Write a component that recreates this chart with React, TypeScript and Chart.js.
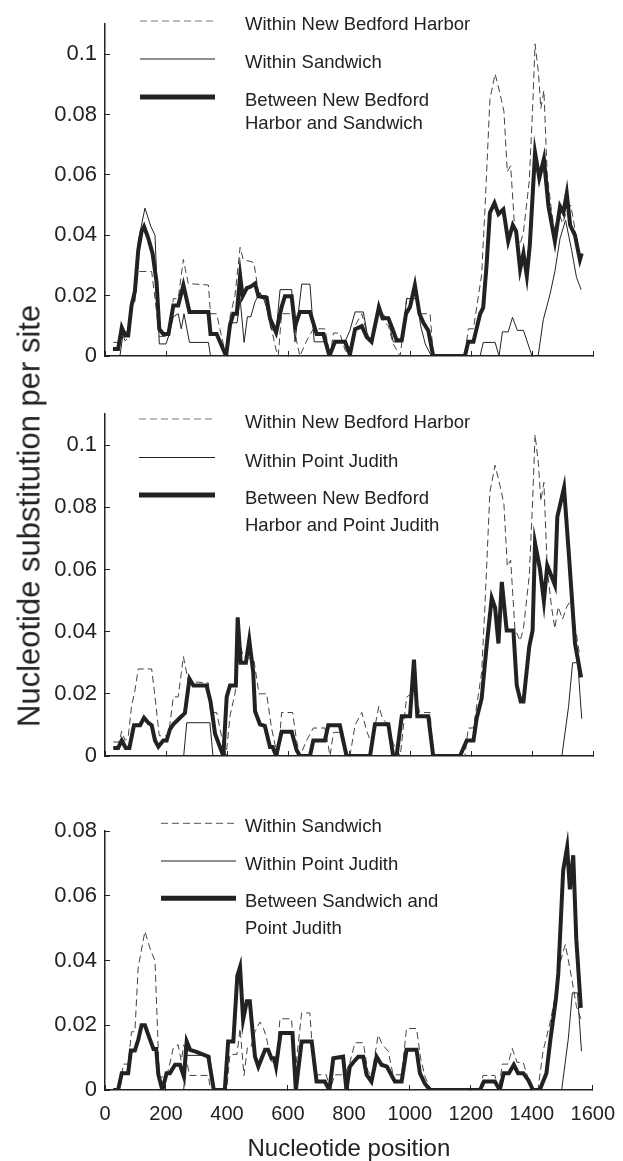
import React, { useEffect, useRef } from 'react';
import { Chart, registerables } from 'chart.js';

Chart.register(...registerables);

const FONT = '"Liberation Sans", Arial, Helvetica, sans-serif';

// ---------- axis ticks ----------
const xTicks = [0, 200, 400, 600, 800, 1000, 1200, 1400, 1600];
const yTicksTop = [0, 0.02, 0.04, 0.06, 0.08, 0.1];
const yTicksBottom = [0, 0.02, 0.04, 0.06, 0.08];

// ---------- series: [nucleotide position, substitutions per site] ----------
const withinNBH: [number, number][] = [
  [27, 0.0045], [46, 0.0045], [55, 0.008], [66, 0.005], [76, 0.006], [87, 0.016], [98, 0.021],
  [109, 0.028], [153, 0.028], [164, 0.019], [178, 0.0065], [208, 0.0065], [224, 0.019], [240, 0.019],
  [257, 0.032], [273, 0.024], [339, 0.0235], [346, 0.014], [366, 0.014], [382, 0.0065], [397, 0],
  [410, 0.013], [426, 0.02], [443, 0.036], [453, 0.032], [488, 0.031], [505, 0.02], [530, 0.02],
  [546, 0.009], [561, 0.002], [568, 0], [579, 0.014], [615, 0.014], [628, 0.005], [639, 0],
  [661, 0.005], [683, 0.009], [721, 0.009], [738, 0], [749, 0.0076], [770, 0.0076], [787, 0.002],
  [803, 0], [820, 0.01], [842, 0.014], [858, 0.008], [874, 0.004], [898, 0.016], [910, 0.012],
  [929, 0.01], [945, 0.004], [968, 0], [989, 0.019], [1005, 0.02], [1016, 0.024], [1031, 0.014],
  [1066, 0.014], [1076, 0], [1180, 0], [1191, 0.009], [1208, 0.009], [1235, 0.027], [1246, 0.049],
  [1262, 0.085], [1279, 0.0935], [1295, 0.087], [1308, 0.081], [1319, 0.061], [1330, 0.063],
  [1344, 0.041], [1361, 0.037], [1372, 0.041], [1391, 0.058], [1402, 0.082], [1410, 0.1034],
  [1421, 0.094], [1429, 0.082], [1439, 0.088], [1450, 0.06], [1464, 0.048], [1475, 0.041],
  [1486, 0.048], [1500, 0.044], [1514, 0.048], [1527, 0.05], [1541, 0.042], [1557, 0.032],
];

const withinSandwich: [number, number][] = [
  [27, 0], [49, 0], [60, 0.008], [76, 0.008], [87, 0.018], [98, 0.018], [109, 0.038], [131, 0.049],
  [150, 0.043], [164, 0.04], [178, 0.004], [200, 0.004], [210, 0.007], [224, 0.013], [240, 0.014],
  [250, 0.009], [259, 0.014], [277, 0.0045], [339, 0.0045], [346, 0], [399, 0], [410, 0.011],
  [433, 0.011], [443, 0.019], [456, 0.0045], [467, 0.013], [478, 0.013], [492, 0.018], [508, 0.021],
  [520, 0.019], [530, 0.016], [544, 0.009], [561, 0.008], [574, 0.022], [612, 0.022], [623, 0.0047],
  [645, 0.0238], [672, 0.0238], [686, 0.0047], [726, 0.0047], [738, 0], [754, 0.0047], [787, 0.0047],
  [803, 0.0085], [820, 0.0146], [847, 0.0146], [862, 0.006], [874, 0.004], [896, 0.017], [910, 0.014],
  [929, 0.012], [945, 0.0047], [973, 0.0047], [989, 0.019], [1022, 0.019], [1035, 0.01], [1050, 0.004],
  [1070, 0], [1230, 0], [1240, 0.0045], [1279, 0.0045], [1292, 0], [1303, 0.008], [1322, 0.008],
  [1336, 0.0128], [1352, 0.0085], [1372, 0.0085], [1400, 0], [1420, 0], [1437, 0.012], [1459, 0.0204],
  [1475, 0.028], [1492, 0.039], [1510, 0.045], [1530, 0.035], [1546, 0.026], [1561, 0.022],
];

const withinPointJudith: [number, number][] = [
  [27, 0], [258, 0], [268, 0.0107], [344, 0.0107], [354, 0], [1498, 0], [1520, 0.016],
  [1533, 0.03], [1550, 0.03], [1563, 0.012],
];

const betweenNBHSandwich: [number, number][] = [
  [26, 0.0023], [43, 0.0023], [55, 0.0094], [66, 0.0068], [76, 0.0068], [87, 0.0167], [98, 0.0214],
  [109, 0.035], [120, 0.0413], [128, 0.0429], [142, 0.039], [156, 0.034], [169, 0.0245], [178, 0.0089],
  [191, 0.0073], [208, 0.0073], [224, 0.0167], [240, 0.0167], [257, 0.0235], [277, 0.0146], [339, 0.0146],
  [346, 0.0073], [366, 0.0073], [397, 0], [410, 0.0104], [421, 0.014], [432, 0.014], [443, 0.0266],
  [451, 0.0198], [465, 0.0225], [478, 0.023], [492, 0.024], [503, 0.0198], [530, 0.0193], [541, 0.0125],
  [561, 0.0078], [579, 0.0162], [590, 0.0198], [612, 0.0198], [623, 0.0099], [639, 0.0146], [672, 0.0146],
  [694, 0.0073], [716, 0.0073], [736, 0], [754, 0.0047], [787, 0.0047], [803, 0.0005], [820, 0.0089],
  [842, 0.0099], [858, 0.0063], [874, 0.0047], [898, 0.0162], [910, 0.0125], [929, 0.0125], [943, 0.0089],
  [956, 0.0052], [973, 0.0052], [987, 0.014], [1000, 0.0162], [1016, 0.0235], [1031, 0.014], [1044, 0.011],
  [1060, 0.0084], [1076, 0], [1180, 0], [1191, 0.0047], [1208, 0.0047], [1230, 0.014], [1240, 0.016],
  [1251, 0.03], [1262, 0.0475], [1277, 0.0507], [1290, 0.047], [1306, 0.0486], [1322, 0.038],
  [1337, 0.0434], [1348, 0.0413], [1361, 0.0287], [1372, 0.034], [1383, 0.0266], [1393, 0.037],
  [1410, 0.0674], [1424, 0.059], [1439, 0.0653], [1454, 0.0496], [1475, 0.038], [1492, 0.0496],
  [1503, 0.0475], [1514, 0.0538], [1525, 0.0434], [1541, 0.04], [1557, 0.0319], [1563, 0.034],
];

const betweenNBHPointJudith: [number, number][] = [
  [27, 0.0026], [43, 0.0026], [55, 0.005], [68, 0.0026], [80, 0.0026], [95, 0.0099], [115, 0.0099],
  [128, 0.0123], [142, 0.0107], [153, 0.0099], [164, 0.005], [175, 0.003], [191, 0.005], [202, 0.005],
  [213, 0.0086], [224, 0.0102], [246, 0.0123], [262, 0.0138], [277, 0.0248], [290, 0.0227], [333, 0.0227],
  [346, 0.0175], [361, 0.0071], [388, 0], [399, 0.019], [410, 0.0227], [429, 0.0227], [435, 0.0446],
  [445, 0.03], [462, 0.03], [473, 0.0373], [486, 0.0269], [492, 0.0144], [508, 0.0102], [524, 0.0097],
  [541, 0.0029], [550, 0.0029], [561, 0], [579, 0.0078], [612, 0.0078], [628, 0.0019], [639, 0],
  [672, 0], [683, 0.005], [721, 0.005], [732, 0.0099], [770, 0.0099], [792, 0], [869, 0], [885, 0.0102],
  [929, 0.0102], [945, 0], [956, 0], [973, 0.0128], [1000, 0.0128], [1013, 0.031], [1024, 0.0128],
  [1060, 0.0128], [1076, 0], [1164, 0], [1186, 0.005], [1208, 0.005], [1219, 0.0123], [1235, 0.0185],
  [1251, 0.0352], [1268, 0.0508], [1279, 0.0477], [1290, 0.0362], [1301, 0.056], [1317, 0.0404],
  [1339, 0.0404], [1350, 0.0227], [1363, 0.0175], [1372, 0.0175], [1391, 0.0352], [1402, 0.0404],
  [1410, 0.0685], [1426, 0.0602], [1439, 0.0498], [1450, 0.0613], [1475, 0.055], [1483, 0.0769],
  [1505, 0.0863], [1522, 0.0633], [1541, 0.0362], [1561, 0.0253],
];

const betweenSandwichPointJudith: [number, number][] = [
  [27, 0], [43, 0], [55, 0.0052], [76, 0.0052], [85, 0.0122], [98, 0.0122], [109, 0.0155], [120, 0.02],
  [131, 0.02], [148, 0.0155], [159, 0.0127], [168, 0.0127], [175, 0.0047], [188, 0], [202, 0.0052],
  [213, 0.0052], [230, 0.0078], [246, 0.0078], [259, 0.0041], [268, 0.015], [279, 0.0124], [300, 0.0118],
  [339, 0.0103], [357, 0], [393, 0], [404, 0.015], [421, 0.015], [434, 0.0352], [443, 0.038],
  [453, 0.0217], [465, 0.0274], [475, 0.0274], [492, 0.0103], [503, 0.0072], [525, 0.0124], [535, 0.0124],
  [546, 0.0098], [555, 0.0098], [561, 0.0072], [576, 0.0176], [615, 0.0176], [626, 0], [645, 0.015],
  [678, 0.015], [694, 0.0026], [721, 0.0026], [736, 0], [749, 0.0098], [781, 0.0103], [792, 0],
  [803, 0.0072], [814, 0.0085], [831, 0.0103], [847, 0.0103], [858, 0.0047], [874, 0.0026], [891, 0.0103],
  [907, 0.0078], [925, 0.0072], [951, 0.0026], [973, 0.0026], [989, 0.0124], [1022, 0.0124], [1033, 0.0052],
  [1049, 0.002], [1066, 0], [1230, 0], [1243, 0.0026], [1279, 0.0026], [1295, 0], [1308, 0.0052],
  [1325, 0.0052], [1341, 0.0078], [1355, 0.0052], [1372, 0.0052], [1389, 0.003], [1404, 0], [1426, 0],
  [1448, 0.0052], [1461, 0.0155], [1479, 0.028], [1487, 0.036], [1503, 0.0678], [1516, 0.075],
  [1525, 0.062], [1536, 0.0725], [1546, 0.0466], [1561, 0.0254],
];

// ---------- styling ----------
type LineStyle = 'dashed' | 'thin' | 'thick';

const STYLES: Record<LineStyle, any> = {
  dashed: { borderColor: '#444', borderWidth: 1, borderDash: [7, 4], legendWidth: 1.2, legendColor: '#777', order: 2 },
  thin: { borderColor: '#222', borderWidth: 1, borderDash: [], legendWidth: 1, legendColor: '#222', order: 1 },
  thick: { borderColor: '#222', borderWidth: 4, borderDash: [], legendWidth: 5, legendColor: '#222', order: 0 },
};

interface SeriesSpec { label: string; data: [number, number][]; style: LineStyle }
interface PanelSpec {
  top: number;
  height: number;
  padTop: number;
  xAxisH: number;
  yMax: number;
  yTicks: number[];
  showXLabels: boolean;
  series: SeriesSpec[];
  legend: { x0: number; x1: number; textX: number; rows: number[]; lineGap: number };
}

const PANELS: PanelSpec[] = [
  {
    top: 0, height: 380, padTop: 12, xAxisH: 15, yMax: 0.11, yTicks: yTicksTop, showXLabels: false,
    series: [
      { label: 'Within New Bedford Harbor', data: withinNBH, style: 'dashed' },
      { label: 'Within Sandwich', data: withinSandwich, style: 'thin' },
      { label: 'Between New Bedford\nHarbor and Sandwich', data: betweenNBHSandwich, style: 'thick' },
    ],
    legend: { x0: 140, x1: 215, textX: 245, rows: [21, 59, 97], lineGap: 23 },
  },
  {
    top: 380, height: 400, padTop: 34, xAxisH: 14, yMax: 0.11, yTicks: yTicksTop, showXLabels: false,
    series: [
      { label: 'Within New Bedford Harbor', data: withinNBH, style: 'dashed' },
      { label: 'Within Point Judith', data: withinPointJudith, style: 'thin' },
      { label: 'Between New Bedford\nHarbor and Point Judith', data: betweenNBHPointJudith, style: 'thick' },
    ],
    legend: { x0: 139, x1: 215, textX: 245, rows: [39, 77.5, 115], lineGap: 27 },
  },
  {
    top: 780, height: 381, padTop: 51, xAxisH: 71, yMax: 0.08, yTicks: yTicksBottom, showXLabels: true,
    series: [
      { label: 'Within Sandwich', data: withinSandwich, style: 'dashed' },
      { label: 'Within Point Judith', data: withinPointJudith, style: 'thin' },
      { label: 'Between Sandwich and\nPoint Judith', data: betweenSandwichPointJudith, style: 'thick' },
    ],
    legend: { x0: 161, x1: 236, textX: 245, rows: [43.3, 81, 118.3], lineGap: 27 },
  },
];

const panelLegend = {
  id: 'panelLegend',
  afterDraw(chart: any, _args: any, opts: any) {
    const ctx: CanvasRenderingContext2D = chart.ctx;
    ctx.save();
    chart.data.datasets.forEach((ds: any, i: number) => {
      const y = opts.rows[i];
      ctx.beginPath();
      ctx.setLineDash(ds.borderDash || []);
      ctx.lineWidth = ds.legendWidth;
      ctx.strokeStyle = ds.legendColor;
      ctx.moveTo(opts.x0, y);
      ctx.lineTo(opts.x1, y);
      ctx.stroke();
      ctx.setLineDash([]);
      ctx.fillStyle = '#222';
      ctx.font = `18.5px ${FONT}`;
      ctx.textAlign = 'left';
      ctx.textBaseline = 'alphabetic';
      String(ds.label).split('\n').forEach((line: string, k: number) => {
        ctx.fillText(line, opts.textX, y + 9 + k * opts.lineGap);
      });
    });
    ctx.restore();
  },
};

const axisGrid = { drawOnChartArea: false, drawTicks: true, tickLength: -5, tickColor: '#222', tickWidth: 1 };
const axisBorder = { display: true, color: '#222', width: 1.5 };

function Panel({ spec }: { spec: PanelSpec }) {
  const ref = useRef<HTMLCanvasElement | null>(null);
  useEffect(() => {
    if (!ref.current) return;
    const chart = new Chart(ref.current, {
      type: 'line',
      data: {
        datasets: spec.series.map((s) => ({
          label: s.label,
          data: s.data.map(([x, y]) => ({ x, y })),
          ...STYLES[s.style],
          pointRadius: 0,
          tension: 0,
          fill: false,
          borderJoinStyle: 'miter',
        })),
      },
      options: {
        responsive: false,
        animation: false,
        devicePixelRatio: 1,
        layout: { padding: { left: 0, right: 30, top: spec.padTop, bottom: 0 } },
        plugins: {
          legend: { display: false },
          tooltip: { enabled: false },
          panelLegend: spec.legend,
        } as any,
        scales: {
          x: {
            type: 'linear',
            min: 0,
            max: 1600,
            afterBuildTicks: (s: any) => { s.ticks = xTicks.map((v) => ({ value: v })); },
            afterFit: (s: any) => { s.height = spec.xAxisH; },
            grid: axisGrid,
            border: axisBorder,
            ticks: {
              display: spec.showXLabels,
              color: '#222',
              font: { family: FONT, size: 20, lineHeight: 2.1 },
              padding: 8,
              maxRotation: 0,
              autoSkip: false,
              callback: (v: any) => String(v),
            },
            title: {
              display: spec.showXLabels,
              text: 'Nucleotide position',
              color: '#222',
              font: { family: FONT, size: 24, lineHeight: 1 },
              padding: { top: 0, bottom: 0 },
            },
          },
          y: {
            type: 'linear',
            min: 0,
            max: spec.yMax,
            afterBuildTicks: (s: any) => { s.ticks = spec.yTicks.map((v) => ({ value: v })); },
            afterFit: (s: any) => { s.width = 105; },
            grid: axisGrid,
            border: axisBorder,
            ticks: {
              color: '#222',
              font: { family: FONT, size: 22, lineHeight: 1 },
              padding: 13,
              callback: (v: any) => String(parseFloat(Number(v).toFixed(3))),
            },
          },
        },
      },
      plugins: [panelLegend as any],
    } as any);
    return () => chart.destroy();
  }, [spec]);
  return (
    <canvas
      ref={ref}
      width={623}
      height={spec.height}
      style={{ position: 'absolute', left: 0, top: spec.top, width: 623, height: spec.height }}
    />
  );
}

export default function App() {
  return (
    <div style={{ position: 'absolute', left: 0, top: 0, width: 623, height: 1161, background: '#fff', overflow: 'hidden' }}>
      {PANELS.map((p, i) => (
        <Panel key={i} spec={p} />
      ))}
      <div
        style={{
          position: 'absolute',
          left: 29,
          top: 516,
          transform: 'translate(-50%, -50%) rotate(-90deg)',
          whiteSpace: 'nowrap',
          fontFamily: FONT,
          fontSize: 31,
          lineHeight: 1,
          color: '#222',
        }}
      >
        Nucleotide substitution per site
      </div>
    </div>
  );
}
